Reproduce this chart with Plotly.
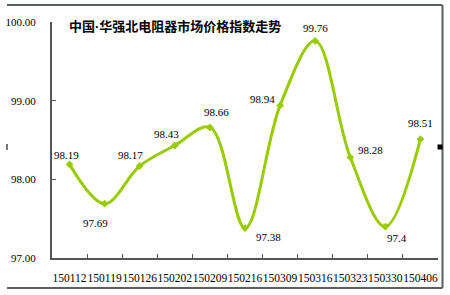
import plotly.graph_objects as go

categories = ["150112", "150119", "150126", "150202", "150209", "150216",
              "150309", "150316", "150323", "150330", "150406"]
values = [98.19, 97.69, 98.17, 98.43, 98.66, 97.38, 98.94, 99.76, 98.28, 97.4, 98.51]
value_labels = ["98.19", "97.69", "98.17", "98.43", "98.66", "97.38",
                "98.94", "99.76", "98.28", "97.4", "98.51"]
y_ticks = [97, 98, 99, 100]
y_tick_labels = ["97.00", "98.00", "99.00", "100.00"]
title_head = "中国"
title_sep = "·"
title_tail = "华强北电阻器市场价格指数走势"

# label offsets in pixels (style)
label_shift = [(-3, 9), (-9, -19), (-9, 11), (-8, 12), (7, 15), (23, -9),
               (-18, 6), (0, 13), (20, 7), (12, -11), (0, 16)]

GREEN = "#99CC00"
AXIS = "#555555"
SERIF = "Liberation Serif"

fig = go.Figure()
fig.add_trace(go.Scatter(
    x=categories, y=values, mode="lines+markers",
    line=dict(color=GREEN, width=3, shape="spline", smoothing=1.0),
    marker=dict(symbol="diamond", size=6, color=GREEN),
    hoverinfo="skip", showlegend=False,
))

annotations = []
for i, (v, t, (dx, dy)) in enumerate(zip(values, value_labels, label_shift)):
    annotations.append(dict(x=i, y=v, xref="x", yref="y", text=t, showarrow=False,
                            xshift=dx, yshift=dy,
                            font=dict(family=SERIF, size=11, color="black")))
title_html = ("<b>" + title_head + "<span style='font-family:Liberation Sans'>" + title_sep
              + "</span>" + title_tail + "</b>")
annotations.append(dict(x=0.04, y=1.0, xref="paper", yref="paper", xanchor="left",
                        yanchor="middle", yshift=-3, text=title_html, showarrow=False,
                        font=dict(family="Noto Sans CJK SC", size=13, color="black")))

L, R, T, B = 52, 438, 22, 258
def px(x):
    return (x - L) / (R - L)
def py(y):
    return (B - y) / (B - T)

FRAME = "#5a605a"
shapes = [
    dict(type="line", xref="paper", yref="paper", x0=px(7), x1=px(442.5), y0=py(5), y1=py(5),
         line=dict(color=FRAME, width=2)),
    dict(type="line", xref="paper", yref="paper", x0=px(442.5), x1=px(442.5), y0=py(5), y1=py(288),
         line=dict(color=FRAME, width=2)),
    dict(type="line", xref="paper", yref="paper", x0=px(7), x1=px(442.5), y0=py(288), y1=py(288),
         line=dict(color=FRAME, width=2)),
    dict(type="rect", xref="paper", yref="paper", x0=px(437.5), x1=px(442.5), y0=py(144.5), y1=py(149.5),
         fillcolor="black", line=dict(width=0)),
    dict(type="rect", xref="paper", yref="paper", x0=px(6), x1=px(8), y0=py(144), y1=py(150),
         fillcolor="#777777", line=dict(width=0)),
]

fig.update_layout(
    width=450, height=295,
    margin=dict(l=L, r=450 - R, t=T, b=295 - B, autoexpand=False),
    paper_bgcolor="white", plot_bgcolor="white",
    annotations=annotations, shapes=shapes,
    xaxis=dict(type="category", tickson="boundaries", ticks="inside", ticklen=4,
               tickcolor=AXIS, showline=True, linecolor=AXIS, linewidth=2,
               showgrid=False, zeroline=False, fixedrange=True, automargin=False,
               tickangle=0,
               tickfont=dict(family=SERIF, size=11.5, color="black"),
               ticklabelstandoff=8, range=[-0.5, 10.5]),
    yaxis=dict(range=[97, 100], tickvals=y_ticks, ticktext=y_tick_labels,
               ticks="inside", ticklen=4, tickcolor=AXIS, showline=True, automargin=False,
               linecolor=AXIS, linewidth=2, showgrid=False, zeroline=False,
               tickfont=dict(family=SERIF, size=11, color="black"),
               ticklabelstandoff=12),
)

fig.write_html("out.html")
